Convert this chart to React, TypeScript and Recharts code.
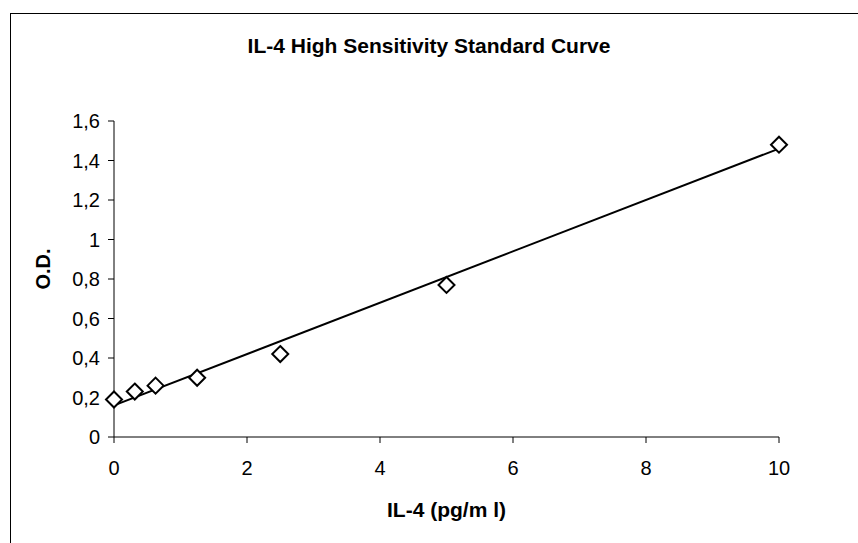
import React from "react";
import {
  ScatterChart,
  Scatter,
  XAxis,
  YAxis,
} from "recharts";

// standards: concentration (pg/ml) vs optical density
const conc = [0, 0.3125, 0.625, 1.25, 2.5, 5, 10];
const od = [0.19, 0.23, 0.26, 0.3, 0.42, 0.77, 1.48];

// fitted trendline endpoints
const trendX = [0, 10];
const trendY = [0.16, 1.46];

const xTicks = [0, 2, 4, 6, 8, 10];
const yTicks = [0, 0.2, 0.4, 0.6, 0.8, 1, 1.2, 1.4, 1.6];

const points = conc.map((x, i) => ({ x, y: od[i] }));
const trend = trendX.map((x, i) => ({ x, y: trendY[i] }));

const FONT = "'Liberation Sans', Arial, sans-serif";

function Diamond(props: any) {
  const { cx, cy } = props;
  if (cx == null || cy == null) return null;
  const r = 8;
  return (
    <polygon
      points={`${cx},${cy - r} ${cx + r},${cy} ${cx},${cy + r} ${cx - r},${cy}`}
      fill="#fff"
      stroke="#000"
      strokeWidth={2}
    />
  );
}

const fmt = (v: number) => String(v).replace(".", ",");

export default function App() {
  return (
    <div
      style={{
        position: "absolute",
        left: 0,
        top: 0,
        width: 858,
        height: 543,
        background: "#fff",
        overflow: "hidden",
        fontFamily: FONT,
      }}
    >
      <div
        style={{
          position: "absolute",
          left: 10,
          top: 13,
          width: 900,
          height: 600,
          border: "1px solid #000",
        }}
      />
      <div
        style={{
          position: "absolute",
          left: 0,
          width: 858,
          top: 34,
          textAlign: "center",
          fontWeight: "bold",
          fontSize: 21,
          lineHeight: "normal",
        }}
      >
        IL-4 High Sensitivity Standard Curve
      </div>
      <div
        style={{
          position: "absolute",
          left: 114,
          width: 665,
          top: 498,
          textAlign: "center",
          fontWeight: "bold",
          fontSize: 21,
        }}
      >
        IL-4 (pg/m l)
      </div>
      <div
        style={{
          position: "absolute",
          left: 43,
          top: 269,
          transform: "translate(-50%, -50%) rotate(-90deg)",
          fontWeight: "bold",
          fontSize: 20,
          whiteSpace: "nowrap",
        }}
      >
        O.D.
      </div>
      <div style={{ position: "absolute", left: 0, top: 0 }}>
        <ScatterChart
          width={858}
          height={543}
          margin={{ top: 121, right: 79, bottom: 76, left: 54 }}
        >
          <XAxis
            type="number"
            dataKey="x"
            domain={[0, 10]}
            ticks={xTicks}
            height={30}
            tickSize={6}
            tickMargin={18}
            stroke="#000"
            tick={{ fill: "#000", fontSize: 20, fontFamily: FONT }}
          />
          <YAxis
            type="number"
            dataKey="y"
            domain={[0, 1.6]}
            ticks={yTicks}
            width={60}
            tickSize={6}
            tickMargin={8}
            tickFormatter={fmt}
            stroke="#000"
            tick={{ fill: "#000", fontSize: 20, fontFamily: FONT }}
          />
          <Scatter
            data={trend}
            line={{ stroke: "#000", strokeWidth: 2 }}
            shape={() => null}
            isAnimationActive={false}
          />
          <Scatter data={points} shape={Diamond} isAnimationActive={false} />
        </ScatterChart>
      </div>
    </div>
  );
}
